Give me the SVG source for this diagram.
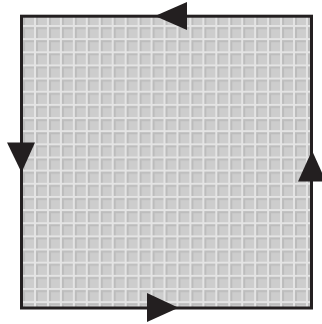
<svg xmlns="http://www.w3.org/2000/svg" width="322" height="324" viewBox="0 0 322 324">
  <defs>
    <pattern id="grid" patternUnits="userSpaceOnUse" x="34" y="25" width="12.95" height="13.15">
      <rect x="0" y="0" width="12.95" height="13.15" fill="#cdcdcd"/>
      <rect x="2" y="2" width="2" height="11.15" fill="#bcbcbc"/>
      <rect x="2" y="2" width="10.95" height="2" fill="#bcbcbc"/>
      <rect x="0" y="0" width="2" height="13.15" fill="#e4e4e4"/>
      <rect x="0" y="0" width="12.95" height="2" fill="#e4e4e4"/>
    </pattern>
    <style>
      .arrow { fill: #231f20; }
      .frame { fill: url(#grid); stroke: #231f20; stroke-width: 3; }
    </style>
  </defs>
  <rect width="322" height="324" fill="#ffffff"/>
  <g id="square">
    <rect class="frame" x="21.5" y="16.2" width="290" height="291.8"/>
  </g>
  <g id="connectors">
    <polygon class="arrow" points="155,16 187,2 187,30"/>
    <polygon class="arrow" points="7,142.5 35,142.5 21.5,172.5"/>
    <polygon class="arrow" points="312,150.5 298,181.5 326,181.5"/>
    <polygon class="arrow" points="147,293 147,322 178.5,307.7"/>
  </g>
</svg>
